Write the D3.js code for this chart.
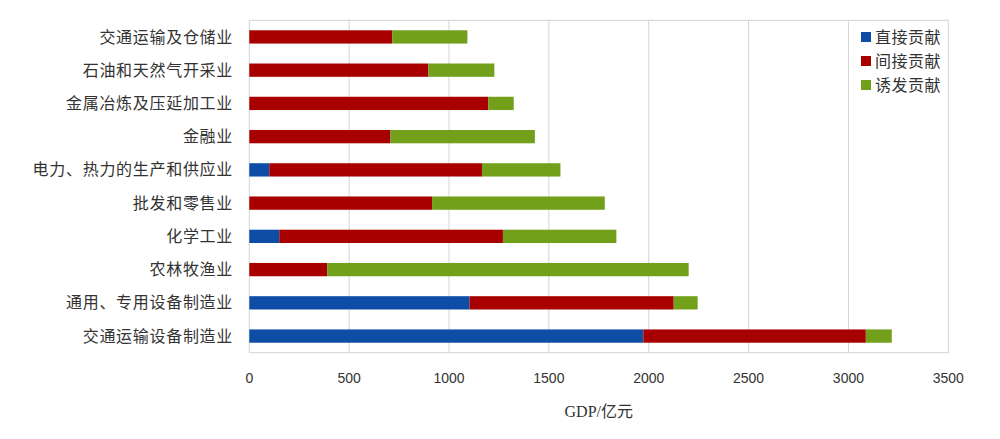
<!DOCTYPE html>
<html><head><meta charset="utf-8">
<script src="https://cdn.jsdelivr.net/npm/d3@7/dist/d3.min.js"></script>
<style>body{margin:0;background:#fff;}svg{display:block;}</style>
</head><body>
<svg id="chart" width="1000" height="439"></svg>
<script>
const categories = ["交通运输及仓储业","石油和天然气开采业","金属冶炼及压延加工业","金融业","电力、热力的生产和供应业","批发和零售业","化学工业","农林牧渔业","通用、专用设备制造业","交通运输设备制造业"];
const direct   = [0, 0, 0, 0, 100, 0, 150, 0, 1103, 1973];
const indirect = [715, 897, 1197, 707, 1065, 915, 1120, 390, 1022, 1114];
const induced  = [377, 330, 127, 723, 393, 865, 568, 1810, 120, 130];
const seriesNames = ["直接贡献","间接贡献","诱发贡献"];
const colors = ["#0D4DA6","#A80000","#72A01A"];
const xTicks = [0,500,1000,1500,2000,2500,3000,3500];
const axisTitle = "GDP/亿元";

const svg = d3.select("#chart");
const m = {left:249.3, right:948.3, top:20.3, bottom:352.7};
const x = d3.scaleLinear().domain([0,3500]).range([m.left, m.right]);
const y = d3.scaleBand().domain(categories).range([m.top, m.bottom]).paddingInner(0.6).paddingOuter(0.3);

// grid
svg.append("g").selectAll("line").data(xTicks.slice(1,-1)).join("line")
  .attr("x1",d=>x(d)).attr("x2",d=>x(d)).attr("y1",m.top).attr("y2",m.bottom)
  .attr("stroke","#d4d4d4").attr("stroke-width",1);
// frame
svg.append("rect").attr("x",m.left).attr("y",m.top).attr("width",m.right-m.left).attr("height",m.bottom-m.top)
  .attr("fill","none").attr("stroke","#d4d4d4").attr("stroke-width",1);

const rows = categories.map((c,i)=>({cat:c, vals:[direct[i],indirect[i],induced[i]]}));
const stack = d3.stack().keys([0,1,2]).value((d,k)=>d.vals[k]);
const stacked = stack(rows);
svg.append("g").selectAll("g").data(stacked).join("g")
  .attr("fill",(d,i)=>colors[i])
  .selectAll("rect").data(d=>d).join("rect")
  .attr("x",d=>x(d[0])).attr("width",d=>Math.max(0,x(d[1])-x(d[0])))
  .attr("y",d=>y(d.data.cat)).attr("height",y.bandwidth());

// category labels
svg.append("g").selectAll("text").data(categories).join("text")
  .attr("x",233).attr("y",d=>y(d)+y.bandwidth()/2).attr("dy","0.35em")
  .attr("text-anchor","end").attr("fill","#333")
  .style("font-family","'Noto Sans CJK SC', sans-serif").style("font-size","16px")
  .style("letter-spacing","0.7px")
  .text(d=>d);

// x tick labels
svg.append("g").selectAll("text").data(xTicks).join("text")
  .attr("x",d=>x(d)).attr("y",378).attr("dy","0.35em").attr("text-anchor","middle")
  .attr("fill","#333").style("font-family","'Liberation Sans', sans-serif").style("font-size","14px")
  .text(d=>d);

svg.append("text").attr("x",(m.left+m.right)/2).attr("y",411).attr("dy","0.35em")
  .attr("text-anchor","middle").attr("fill","#333")
  .style("font-family","'Liberation Serif', 'Noto Sans CJK SC', serif").style("font-size","16px")
  .text(axisTitle);

// legend
const lg = svg.append("g").selectAll("g").data(seriesNames).join("g")
  .attr("transform",(d,i)=>`translate(861,${37+i*24})`);
lg.append("rect").attr("x",0).attr("y",-5).attr("width",10).attr("height",10).attr("fill",(d,i)=>colors[i]);
lg.append("text").attr("x",14).attr("y",0).attr("dy","0.35em").attr("fill","#333")
  .style("font-family","'Noto Sans CJK SC', sans-serif").style("font-size","16px")
  .style("letter-spacing","0.5px").text(d=>d);
</script>
</body></html>
